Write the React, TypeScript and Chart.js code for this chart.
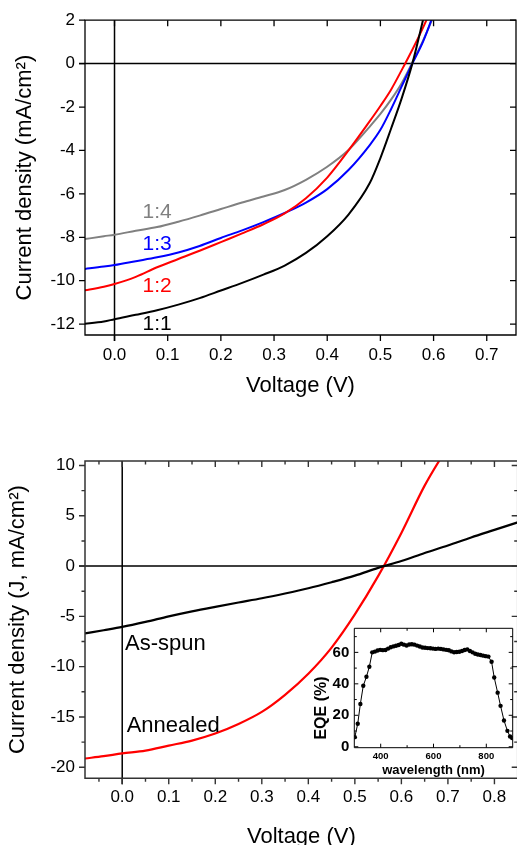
import React, { useEffect, useRef } from 'react';
import { Chart, registerables } from 'chart.js';

Chart.register(...registerables);

const FONT = "'Liberation Sans', Arial, Helvetica, sans-serif";

// ---------------- Top chart: J-V curves for blend ratios ----------------
const ratioVoltage = [-0.06, -0.02, 0, 0.04, 0.08, 0.12, 0.16, 0.2, 0.24, 0.28, 0.32, 0.36, 0.4, 0.44, 0.48, 0.5, 0.52, 0.54, 0.56, 0.58, 0.6, 0.62];
const jRatio11 = [-12.0, -11.88, -11.77, -11.57, -11.36, -11.1, -10.8, -10.45, -10.1, -9.72, -9.3, -8.72, -7.95, -6.95, -5.5, -4.35, -3.0, -1.6, 0, 2.0, 4.2, 6.5];
const jRatio12 = [-10.46, -10.28, -10.15, -9.82, -9.38, -9.0, -8.62, -8.22, -7.82, -7.4, -6.9, -6.2, -5.25, -4.0, -2.65, -1.95, -1.2, -0.3, 0.64, 1.65, 2.75, 3.9];
const jRatio13 = [-9.47, -9.35, -9.28, -9.1, -8.92, -8.7, -8.4, -8.03, -7.68, -7.3, -6.88, -6.4, -5.78, -4.9, -3.75, -3.05, -2.1, -1.05, 0, 1.0, 2.3, 3.8];
const jRatio14 = [-8.1, -7.95, -7.88, -7.7, -7.53, -7.28, -7.0, -6.7, -6.4, -6.12, -5.82, -5.35, -4.75, -3.98, -2.9, -2.32, -1.66, -0.9, 0.05, 1.05, 2.2, 3.5];
const ratioNames = ['1:1', '1:2', '1:3', '1:4'];
const ratioColors = ['#000000', '#ff0000', '#0000ff', '#808080'];
const ratioLabelV = [0.08, 0.08, 0.08, 0.08];
const ratioLabelJ = [-11.99, -10.24, -8.32, -6.84];
const topXTicks = [0, 0.1, 0.2, 0.3, 0.4, 0.5, 0.6, 0.7];
const topYTicks = [-12, -10, -8, -6, -4, -2, 0, 2];

// ---------------- Bottom chart: as-spun vs annealed ----------------
const annealVoltage = [-0.08, -0.04, 0, 0.05, 0.1, 0.15, 0.2, 0.25, 0.3, 0.35, 0.4, 0.45, 0.5, 0.55, 0.6, 0.65, 0.7, 0.75, 0.8, 0.85];
const jAsSpun = [-6.7, -6.38, -6.05, -5.55, -5.0, -4.5, -4.05, -3.62, -3.2, -2.72, -2.2, -1.6, -0.95, -0.18, 0.5, 1.3, 2.05, 2.85, 3.6, 4.35];
const jAnnealed = [-19.13, -18.9, -18.63, -18.35, -17.85, -17.35, -16.65, -15.7, -14.5, -12.8, -10.7, -8.1, -4.8, -1.0, 3.3, 8.0, 11.9, null, null, null];
const annealNames = ['As-spun', 'Annealed'];
const annealColors = ['#000000', '#ff0000'];
const annealLabelV = [0.006, 0.0095];
const annealLabelJ = [-7.76, -15.86];
const botXTicks = [0, 0.1, 0.2, 0.3, 0.4, 0.5, 0.6, 0.7, 0.8];
const botXMinor = [-0.05, 0.05, 0.15, 0.25, 0.35, 0.45, 0.55, 0.65, 0.75, 0.85];
const botYTicks = [-20, -15, -10, -5, 0, 5, 10];
const botYMinor = [-17.5, -12.5, -7.5, -2.5, 2.5, 7.5];

// ---------------- Inset: EQE spectrum ----------------
const eqeWavelength = [302, 313, 323, 334, 346, 357, 368, 378, 388, 398, 408, 418, 428, 438, 448, 458, 468, 478, 488, 498, 508, 518, 528, 538, 548, 558, 568, 578, 588, 598, 608, 618, 628, 638, 648, 658, 668, 678, 688, 698, 708, 718, 728, 738, 748, 758, 768, 778, 788, 798, 808, 820, 830, 843, 854, 867, 880, 890, 898];
const eqeValue = [6.1, 14.6, 27.2, 38.8, 44.5, 50.9, 60.0, 60.5, 61.2, 61.6, 61.4, 61.5, 62.4, 63.3, 63.8, 64.2, 64.7, 65.5, 64.9, 64.4, 65.0, 65.2, 64.9, 64.3, 63.7, 63.1, 62.9, 62.7, 62.6, 62.4, 62.2, 62.4, 62.2, 61.9, 61.6, 61.3, 60.6, 60.1, 60.2, 60.4, 60.9, 61.5, 61.9, 60.9, 60.0, 59.1, 58.6, 58.3, 57.9, 57.6, 57.3, 54.0, 44.0, 34.4, 26.0, 16.7, 10.1, 6.5, 5.5];
const insetXTicks = [400, 600, 800];
const insetXMinor = [500, 700];
const insetYTicks = [0, 20, 40, 60];
const insetYMinor = [10, 30, 50, 70];

// ---------------- helpers ----------------
function framePlugin(cfg: any) {
  return {
    id: 'frame_' + cfg.name,
    beforeDatasetsDraw(chart: any) {
      if (!cfg.zero) return;
      const { ctx, chartArea: a } = chart;
      const xs = chart.scales.x;
      const ys = chart.scales.y;
      const x0 = xs.getPixelForValue(0);
      const y0 = ys.getPixelForValue(0);
      ctx.save();
      ctx.strokeStyle = cfg.zeroColor;
      ctx.lineWidth = cfg.zeroWidth;
      ctx.beginPath();
      ctx.moveTo(a.left - cfg.majorLen, y0);
      ctx.lineTo(a.right, y0);
      ctx.moveTo(x0, a.top);
      ctx.lineTo(x0, a.bottom + cfg.majorLen);
      ctx.stroke();
      ctx.restore();
    },
    afterDatasetsDraw(chart: any) {
      const { ctx, chartArea: a } = chart;
      const xs = chart.scales.x;
      const ys = chart.scales.y;
      ctx.save();
      ctx.strokeStyle = cfg.color;
      ctx.lineWidth = cfg.width;
      ctx.beginPath();
      ctx.rect(a.left, a.top, a.right - a.left, a.bottom - a.top);
      ctx.stroke();
      ctx.lineWidth = cfg.tickWidth;
      ctx.beginPath();
      const sides = cfg.sides;
      const xGroups: any[] = [[cfg.xMajor, cfg.majorLen], [cfg.xMinor || [], cfg.minorLen]];
      const yGroups: any[] = [[cfg.yMajor, cfg.majorLen], [cfg.yMinor || [], cfg.minorLen]];
      for (const [vals, len] of xGroups) {
        for (const v of vals) {
          const p = xs.getPixelForValue(v);
          if (p < a.left - 0.5 || p > a.right + 0.5) continue;
          if (sides.bottom) {
            const d = sides.bottom === 'in' ? -len : len;
            ctx.moveTo(p, a.bottom);
            ctx.lineTo(p, a.bottom + d);
          }
          if (sides.top) {
            const d = sides.top === 'in' ? len : -len;
            ctx.moveTo(p, a.top);
            ctx.lineTo(p, a.top + d);
          }
        }
      }
      for (const [vals, len] of yGroups) {
        for (const v of vals) {
          const p = ys.getPixelForValue(v);
          if (p < a.top - 0.5 || p > a.bottom + 0.5) continue;
          if (sides.left) {
            const d = sides.left === 'in' ? len : -len;
            ctx.moveTo(a.left, p);
            ctx.lineTo(a.left + d, p);
          }
          if (sides.right) {
            const d = sides.right === 'in' ? -len : len;
            ctx.moveTo(a.right, p);
            ctx.lineTo(a.right + d, p);
          }
        }
      }
      ctx.stroke();
      ctx.restore();
    },
  };
}

function textPlugin(name: string, texts: string[], xv: number[], yv: number[], colors: string[], font: string, align: string) {
  return {
    id: 'texts_' + name,
    afterDatasetsDraw(chart: any) {
      const { ctx } = chart;
      const xs = chart.scales.x;
      const ys = chart.scales.y;
      ctx.save();
      ctx.font = font;
      ctx.textAlign = align;
      ctx.textBaseline = 'middle';
      texts.forEach((t, i) => {
        ctx.fillStyle = colors[i];
        ctx.fillText(t, xs.getPixelForValue(xv[i]), ys.getPixelForValue(yv[i]));
      });
      ctx.restore();
    },
  };
}

function rotatedTitlePlugin(name: string, text: string, font: string, dx: number, dy: number) {
  return {
    id: 'rtitle_' + name,
    afterDraw(chart: any) {
      const { ctx, chartArea: a } = chart;
      ctx.save();
      ctx.translate(a.left + dx, a.bottom + dy);
      ctx.rotate(-Math.PI / 2);
      ctx.font = font;
      ctx.fillStyle = '#000';
      ctx.textAlign = 'center';
      ctx.textBaseline = 'middle';
      ctx.fillText(text, 0, 0);
      ctx.restore();
    },
  };
}

const setTicks = (arr: number[]) => (s: any) => {
  s.ticks = arr.map((v) => ({ value: v }));
};

function axis(opts: any) {
  return {
    type: 'linear',
    min: opts.min,
    max: opts.max,
    afterBuildTicks: setTicks(opts.ticks),
    afterFit: (s: any) => {
      if (opts.width !== undefined) s.width = opts.width;
      if (opts.height !== undefined) s.height = opts.height;
    },
    grid: { display: false, drawTicks: false, tickLength: 0 },
    border: { display: false },
    ticks: {
      autoSkip: false,
      maxRotation: 0,
      minRotation: 0,
      color: '#000',
      padding: opts.tickPad,
      font: { family: FONT, size: opts.tickSize, weight: opts.bold ? 'bold' : 'normal' },
      callback: opts.fmt,
    },
    title: opts.title
      ? {
          display: true,
          text: opts.title,
          color: '#000',
          font: { family: FONT, size: opts.titleSize, lineHeight: 1, weight: opts.bold ? 'bold' : 'normal' },
          padding: opts.titlePad,
        }
      : { display: false },
  };
}

const fmt1 = (v: any) => Number(v).toFixed(1);
const fmt0 = (v: any) => String(Math.round(Number(v)));

function pts(xv: number[], yv: (number | null)[]) {
  return xv.map((x, i) => ({ x, y: yv[i] }));
}

export default function App() {
  const topRef = useRef<HTMLCanvasElement>(null);
  const botRef = useRef<HTMLCanvasElement>(null);
  const insetRef = useRef<HTMLCanvasElement>(null);

  useEffect(() => {
    const ratioSeries = [jRatio11, jRatio12, jRatio13, jRatio14];
    const top = new Chart(topRef.current as HTMLCanvasElement, {
      type: 'line',
      data: {
        datasets: ratioSeries.map((s, i) => ({
          label: ratioNames[i],
          data: pts(ratioVoltage, s),
          borderColor: ratioColors[i],
          backgroundColor: ratioColors[i],
          borderWidth: 2,
          pointRadius: 0,
          cubicInterpolationMode: 'monotone',
          fill: false,
        })),
      },
      options: {
        responsive: false,
        animation: false,
        events: [],
        layout: { padding: { left: 0, top: 19, right: 1, bottom: 0 } },
        plugins: { legend: { display: false }, tooltip: { enabled: false } },
        scales: {
          x: axis({ min: -0.0555, max: 0.755, ticks: topXTicks, height: 85, tickPad: 10, tickSize: 17, fmt: fmt1, title: 'Voltage (V)', titleSize: 22, titlePad: { top: 0, bottom: 23.5 } }),
          y: axis({ min: -12.5, max: 2, ticks: topYTicks, width: 85, tickPad: 10, tickSize: 17, fmt: fmt0, title: 'Current density (mA/cm²)', titleSize: 22, titlePad: { top: 14, bottom: 0 } }),
        },
      } as any,
      plugins: [
        framePlugin({ name: 'top', color: '#000', width: 1.3, tickWidth: 1.3, majorLen: 6, minorLen: 3, zero: true, zeroColor: '#000', zeroWidth: 1.5, xMajor: topXTicks, yMajor: topYTicks, sides: { left: 'out', bottom: 'out', top: 'in', right: 'in' } }),
        textPlugin('top', ratioNames, ratioLabelV, ratioLabelJ, ratioColors, `21px ${FONT}`, 'center'),
      ],
    } as any);

    const annealSeries = [jAsSpun, jAnnealed];
    const bot = new Chart(botRef.current as HTMLCanvasElement, {
      type: 'line',
      data: {
        datasets: annealSeries.map((s, i) => ({
          label: annealNames[i],
          data: pts(annealVoltage, s),
          borderColor: annealColors[i],
          backgroundColor: annealColors[i],
          borderWidth: 2.2,
          pointRadius: 0,
          cubicInterpolationMode: 'monotone',
          fill: false,
        })),
      },
      options: {
        responsive: false,
        animation: false,
        events: [],
        layout: { padding: { left: 0, top: 41, right: 2.3, bottom: 0 } },
        plugins: { legend: { display: false }, tooltip: { enabled: false } },
        scales: {
          x: axis({ min: -0.08, max: 0.85, ticks: botXTicks, height: 81.7, tickPad: 9, tickSize: 17, fmt: fmt1, title: 'Voltage (V)', titleSize: 22, titlePad: { top: 0, bottom: 12 } }),
          y: axis({ min: -21.1, max: 10.45, ticks: botYTicks, width: 85, tickPad: 10, tickSize: 17, fmt: fmt0, title: 'Current density (J, mA/cm²)', titleSize: 22, titlePad: { top: 7.3, bottom: 0 } }),
        },
      } as any,
      plugins: [
        framePlugin({ name: 'bot', color: '#333', width: 1.5, tickWidth: 1.4, majorLen: 6, minorLen: 3.5, zero: true, zeroColor: '#000', zeroWidth: 1.5, xMajor: botXTicks, xMinor: botXMinor, yMajor: botYTicks, yMinor: botYMinor, sides: { left: 'out', bottom: 'out', top: 'in', right: 'in' } }),
        textPlugin('bot', annealNames, annealLabelV, annealLabelJ, ['#000', '#000'], `22px ${FONT}`, 'left'),
      ],
    } as any);

    const inset = new Chart(insetRef.current as HTMLCanvasElement, {
      type: 'line',
      data: {
        datasets: [
          {
            label: 'EQE',
            data: pts(eqeWavelength, eqeValue),
            borderColor: '#000',
            backgroundColor: '#000',
            borderWidth: 1,
            pointRadius: 2.2,
            pointBorderWidth: 0,
            pointBackgroundColor: '#000',
            tension: 0,
            fill: false,
          },
        ],
      },
      options: {
        responsive: false,
        animation: false,
        events: [],
        layout: { padding: { left: 0, top: 18.3, right: 4.3, bottom: 0 } },
        plugins: { legend: { display: false }, tooltip: { enabled: false } },
        scales: {
          x: axis({ min: 300, max: 900, ticks: insetXTicks, height: 37.3, tickPad: 3, tickSize: 9.5, bold: true, fmt: fmt0, title: 'wavelength (nm)', titleSize: 13, titlePad: { top: 0, bottom: 8.5 } }),
          y: axis({ min: -0.6, max: 75.3, ticks: insetYTicks, width: 59.3, tickPad: 5, tickSize: 15, bold: true, fmt: fmt0 }),
        },
      } as any,
      plugins: [
        framePlugin({ name: 'inset', color: '#000', width: 1, tickWidth: 1, majorLen: 4, minorLen: 2.5, zero: false, xMajor: insetXTicks, xMinor: insetXMinor, yMajor: insetYTicks, yMinor: insetYMinor, sides: { left: 'in', bottom: 'in', top: 'in', right: 'in' } }),
        rotatedTitlePlugin('inset', 'EQE (%)', `bold 16px ${FONT}`, -32.6, -39.7),
      ],
    } as any);

    return () => {
      top.destroy();
      bot.destroy();
      inset.destroy();
    };
  }, []);

  return (
    <div style={{ position: 'absolute', left: 0, top: 0, width: 517, height: 845, overflow: 'hidden', background: '#fff' }}>
      <canvas ref={topRef} width={517} height={420} style={{ position: 'absolute', left: 0, top: 0 }} />
      <canvas ref={botRef} width={520} height={440} style={{ position: 'absolute', left: 0, top: 420 }} />
      <canvas ref={insetRef} width={222} height={175} style={{ position: 'absolute', left: 295, top: 610 }} />
    </div>
  );
}
